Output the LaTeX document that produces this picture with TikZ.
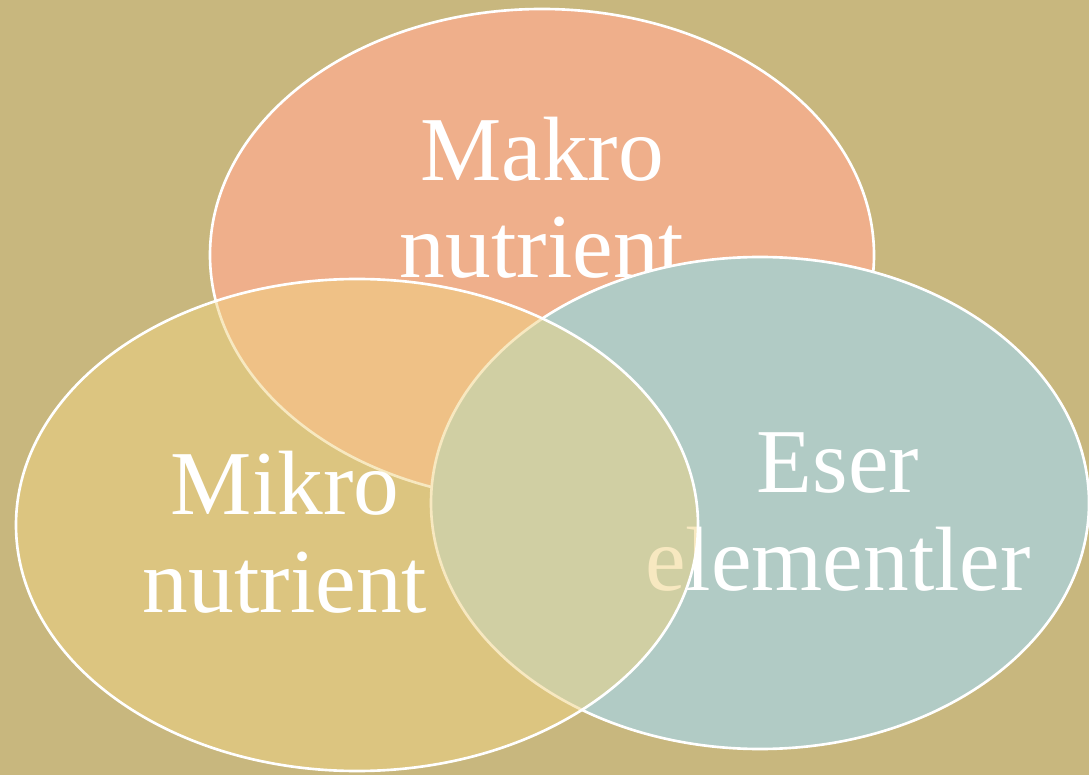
\documentclass[tikz,border=0pt]{standalone}
\usepackage{fontspec}
\setmainfont{Liberation Serif}
\usepackage{xcolor}
\usepackage{tikz}
\usetikzlibrary{positioning}
\definecolor{backtan}{HTML}{C8B77E}
\definecolor{makrofill}{HTML}{EFAF8B}
\definecolor{eserfill}{HTML}{B1CBC5}
\definecolor{mikrofill}{HTML}{F0D382}

\begin{document}
\begin{tikzpicture}[x=0.02cm, y=0.02cm,
    venn/.style={draw=white, line width=1.5pt},
    vennlabel/.style={text=white, align=center, anchor=base, inner sep=0pt,
        font=\fontsize{52}{55.5}\selectfont}]
    % Background
    \fill[backtan] (0,0) rectangle (1089,775);
    \useasboundingbox (0,0) rectangle (1089,775);

    % Makro nutrient
    \draw[venn, fill=makrofill] (542,520) ellipse [x radius=332, y radius=246];
    \node[vennlabel] (makro) at (542,497) {Makro\\nutrient};

    % Eser elementler
    \draw[venn, fill=eserfill] (760,272) ellipse [x radius=329, y radius=246];
    \node[vennlabel] (eser) at (838,185) {Eser\\elementler};

    % Mikro nutrient
    \fill[mikrofill, fill opacity=0.5] (357,250) ellipse [x radius=341, y radius=246];
    \draw[venn] (357,250) ellipse [x radius=341, y radius=246];
    \node[vennlabel] (mikro) at (285,163) {Mikro\\nutrient};
\end{tikzpicture}
\end{document}
